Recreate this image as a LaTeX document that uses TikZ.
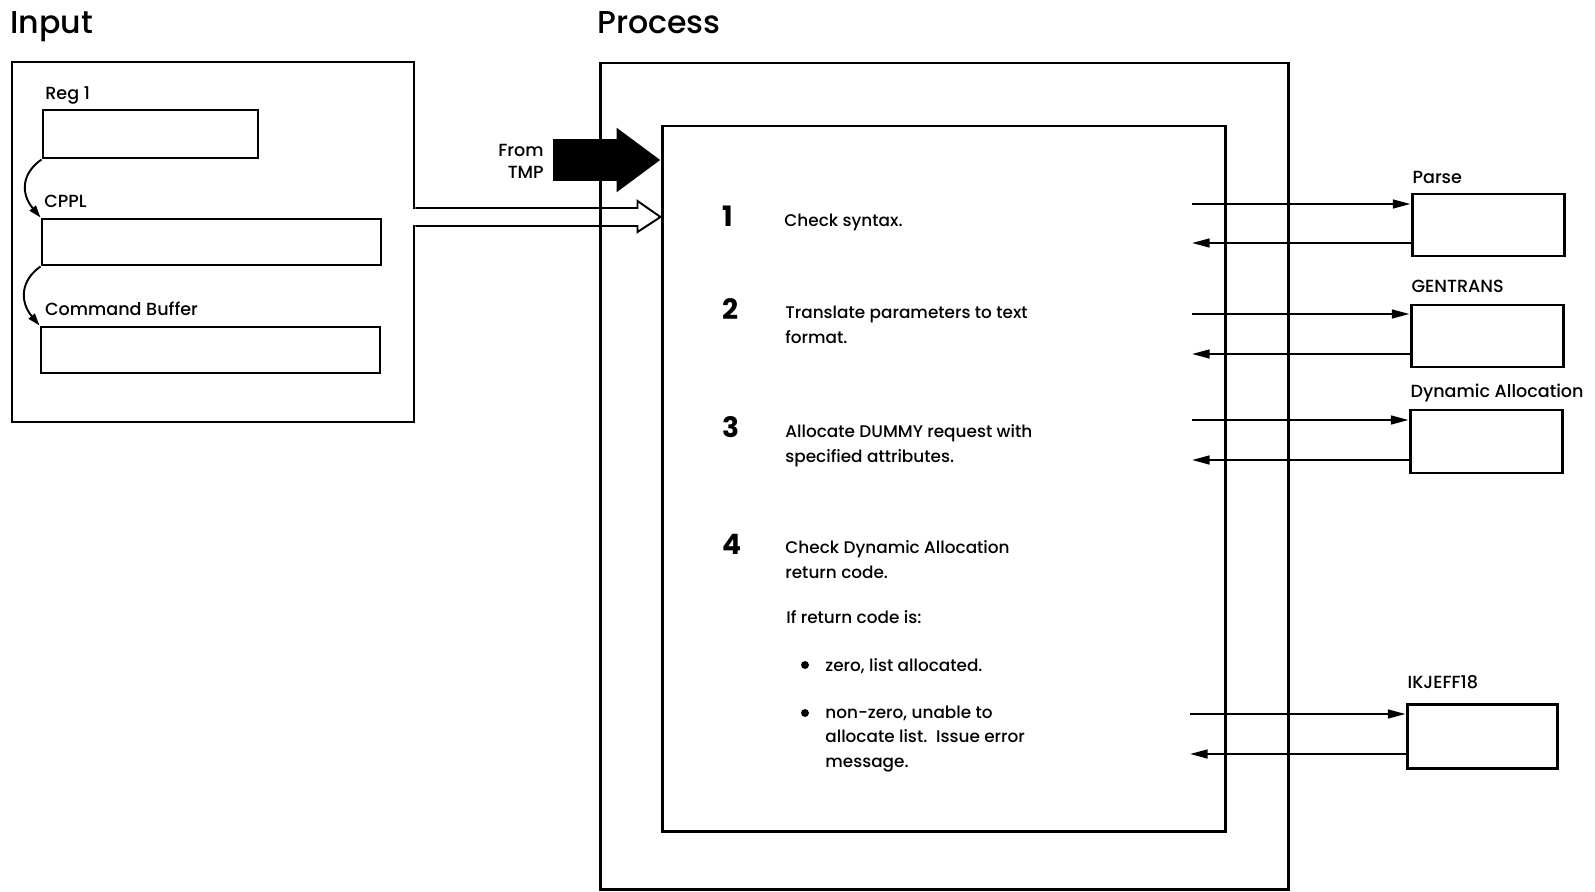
\documentclass[tikz,border=0pt]{standalone}
\usepackage{fontspec}
\setmainfont{Poppins}[UprightFont=* Medium, BoldFont=* Bold]
\usetikzlibrary{arrows.meta,positioning,fit,calc}

\begin{document}
\begin{tikzpicture}[x=0.02cm, y=-0.02cm,
    box/.style={rectangle, draw=black, line width=1.7pt, inner sep=0pt},
    lbl/.style={font=\fontsize{10}{11}\selectfont, inner sep=0pt, text depth=0pt},
    title/.style={font=\fontsize{18}{20}\selectfont, anchor=base west, inner sep=0pt},
    stepnum/.style={font=\bfseries\fontsize{16}{18}\selectfont, anchor=base west, inner sep=0pt},
    steptext/.style={font=\fontsize{9.6}{13.7}\selectfont, anchor=base west, align=left, inner sep=0pt},
    dot/.style={circle, fill=black, inner sep=0pt, minimum size=4.5pt},
    arr/.style={-{Triangle[length=10pt,width=5pt]}, line width=1.1pt},
    carr/.style={-{Triangle[length=7pt,width=4.5pt]}, line width=1.1pt},
    hollow/.style={line width=1.1pt, line join=miter}
]
    \useasboundingbox (0,0) rectangle (1595,892);

    % Titles
    \node (tin) [title] at (10,34) {Input};
    \node (tproc) [title] at (597,34) {Process};

    % Input side
    \node (input) [box, fit={(12,62) (414,422)}] {};
    \node (reg) [box, fit={(43,110) (258,158)}] {};
    \node (cppl) [box, fit={(42,219) (381,265)}] {};
    \node (cbuf) [box, fit={(41,327) (380,373)}] {};
    \node (lreg) [lbl, above right=5pt and 2pt of reg.north west] {Reg 1};
    \node (lcppl) [lbl, above right=5.5pt and 2pt of cppl.north west] {CPPL};
    \node (lcbuf) [lbl, above right=5.5pt and 3pt of cbuf.north west] {Command Buffer};

    \draw [carr] (reg.south west) .. controls ($(reg.south west)+(-20,14)$) and ($(cppl.north west)+(-20,-24)$) .. (cppl.north west);
    \draw [carr] (cppl.south west) .. controls ($(cppl.south west)+(-20,14)$) and ($(cbuf.north west)+(-20,-24)$) .. (cbuf.north west);

    % Process side
    \node (proc) [box, fit={(600,63) (1288,889)}] {};
    \node (inner) [box, fit={(662,126) (1225,831)}] {};

    % From TMP
    \node (tmp) [lbl, align=right, anchor=east, font=\fontsize{10}{12.5}\selectfont] at (544,161) {From\\TMP};
    \coordinate (tmpin) at (553,160);
    \draw [line width=24pt, -{Triangle[length=25pt,width=35pt]}] (tmpin) -- (tmpin -| inner.west);

    % hollow arrow out of the input box
    \coordinate (hin) at (input.east |- 0,217);
    \coordinate (hout) at (inner.west |- hin);
    \fill [white] ($(hin)+(-4,-8)$) rectangle ($(hin)+(4,8)$);
    \draw [hollow] ($(hin)+(0,-9)$) -- ($(hout)+(-23,-9)$) -- ($(hout)+(-23,-16)$) -- (hout)
        -- ($(hout)+(-23,15)$) -- ($(hout)+(-23,9)$) -- ($(hin)+(0,9)$);

    % Steps (base = baseline of last line)
    \node (n1) [stepnum] at (722,226) {1};
    \node (t1) [steptext] at (784,226) {Check syntax.};

    \node (n2) [stepnum] at (722,319) {2};
    \node (t2) [steptext] at (785,343) {Translate parameters to text\\format.};

    \node (n3) [stepnum] at (722,437) {3};
    \node (t3) [steptext] at (785,462) {Allocate DUMMY request with\\specified attributes.};

    \node (n4) [stepnum] at (722,554) {4};
    \node (t4) [steptext] at (785,578) {Check Dynamic Allocation\\return code.};
    \node (t4a) [steptext] at (786,623) {If return code is:};

    \node (b1) [dot] at (805,665) {};
    \node (t4b) [steptext] at (825,671) {zero, list allocated.};
    \node (b2) [dot] at (805,713) {};
    \node (t4c) [steptext] at (825,767) {non-zero, unable to\\allocate list.\ \ Issue error\\message.};

    % Called routines
    \node (parse) [box, fit={(1412,194) (1564,256)}] {};
    \node (gentrans) [box, fit={(1411,305) (1563,367)}] {};
    \node (dynalloc) [box, fit={(1410,410) (1562,473)}] {};
    \node (ikjeff) [box, fit={(1407,704) (1557,768)}] {};
    \node (lparse) [lbl, above right=5pt and 1pt of parse.north west] {Parse};
    \node (lgen) [lbl, above right=6pt and 1pt of gentrans.north west] {GENTRANS};
    \node (ldyn) [lbl, above right=6pt and 1pt of dynalloc.north west] {Dynamic Allocation};
    \node (likj) [lbl, above right=8pt and 1pt of ikjeff.north west] {IKJEFF18};

    \coordinate (po1) at (1192,204);
    \coordinate (pi1) at (1192,243);
    \coordinate (po2) at (1192,314);
    \coordinate (pi2) at (1192,354);
    \coordinate (po3) at (1192,420);
    \coordinate (pi3) at (1192,460);
    \coordinate (po4) at (1190,714);
    \coordinate (pi4) at (1190,754);

    \draw [arr] (po1) -- (po1 -| parse.west);
    \draw [arr] (pi1 -| parse.west) -- (pi1);
    \draw [arr] (po2) -- (po2 -| gentrans.west);
    \draw [arr] (pi2 -| gentrans.west) -- (pi2);
    \draw [arr] (po3) -- (po3 -| dynalloc.west);
    \draw [arr] (pi3 -| dynalloc.west) -- (pi3);
    \draw [arr] (po4) -- (po4 -| ikjeff.west);
    \draw [arr] (pi4 -| ikjeff.west) -- (pi4);
\end{tikzpicture}
\end{document}
